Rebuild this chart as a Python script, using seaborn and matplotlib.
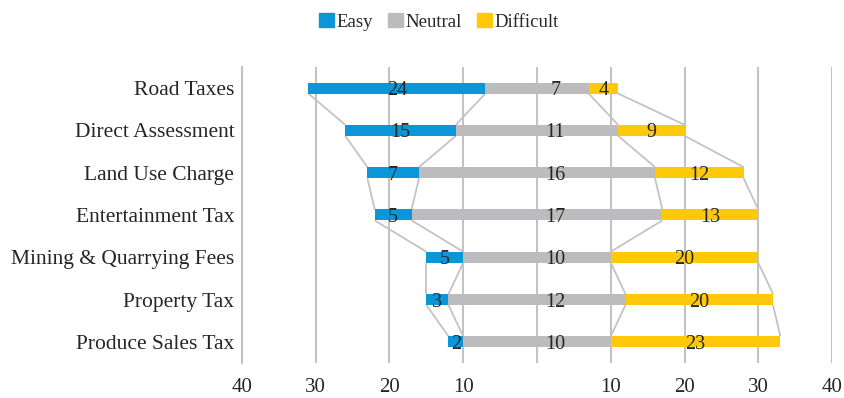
import matplotlib
matplotlib.use("Agg")
import matplotlib.pyplot as plt
import seaborn as sns
import pandas as pd
import numpy as np
from matplotlib.ticker import FixedLocator, FuncFormatter
from matplotlib.patches import Patch

categories = ["Road Taxes", "Direct Assessment", "Land Use Charge", "Entertainment Tax",
              "Mining & Quarrying Fees", "Property Tax", "Produce Sales Tax"]
easy = [24, 15, 7, 5, 5, 3, 2]
neutral = [7, 11, 16, 17, 10, 12, 10]
difficult = [4, 9, 12, 13, 20, 20, 23]
tick_values = [-40, -30, -20, -10, 0, 10, 20, 30, 40]

C_EASY = "#0A96D8"
C_NEU = "#BCBCBE"
C_DIF = "#FFC90A"
C_GRID = "#C3C3C3"
C_TEXT = "#262626"

sns.set_theme(style="white")
plt.rcParams["font.family"] = ["Liberation Serif", "DejaVu Serif"]

df = pd.DataFrame({"cat": categories, "easy": easy, "neutral": neutral, "difficult": difficult})
df["left_total"] = -(df["neutral"] + df["easy"])
df["neu_left"] = -df["neutral"]
df["right_total"] = df["neutral"] + df["difficult"]
df["neu_right"] = df["neutral"]

fig = plt.figure(figsize=(8.44, 3.98), dpi=100)
ax = fig.add_axes([0.2867, 0.088, 0.6991, 0.744])

W = 0.26
for col, color in [("left_total", C_EASY), ("right_total", C_DIF),
                   ("neu_left", C_NEU), ("neu_right", C_NEU)]:
    sns.barplot(data=df, y="cat", x=col, orient="h", color=color, width=W,
                saturation=1, ax=ax, order=categories, linewidth=0, zorder=3)

# series lines between adjacent bars
n = len(categories)
bounds = np.column_stack([df["left_total"], df["neu_left"], df["neu_right"], df["right_total"]])
for i in range(n - 1):
    for j in range(bounds.shape[1]):
        ax.plot([bounds[i, j], bounds[i + 1, j]], [i + W / 2, i + 1 - W / 2],
                color=C_GRID, lw=1.3, zorder=2, solid_capstyle="butt")

# data labels
FS_LAB = 14.5
for i in range(n):
    e, nu, d = easy[i], neutral[i], difficult[i]
    ax.text(-(nu + e / 2), i + 0.06, str(e), ha="center", va="center", fontsize=FS_LAB, color=C_TEXT, zorder=5)
    ax.text(2.5, i + 0.06, str(nu), ha="center", va="center", fontsize=FS_LAB, color=C_TEXT, zorder=5)
    ax.text(nu + d / 2, i + 0.06, str(d), ha="center", va="center", fontsize=FS_LAB, color=C_TEXT, zorder=5)

ax.set_xlim(-40, 40)
ax.set_ylim(n - 0.5, -0.5)
ax.xaxis.set_major_locator(FixedLocator(tick_values))
ax.xaxis.set_major_formatter(FuncFormatter(lambda v, p: "" if v == 0 else f"{abs(int(v))}"))
ax.grid(axis="x", color=C_GRID, lw=1.5, zorder=0)
ax.grid(axis="y", visible=False)
ax.set_axisbelow(True)
for s in ["top", "right", "bottom"]:
    ax.spines[s].set_visible(False)
ax.spines["left"].set_color(C_GRID)
ax.spines["left"].set_linewidth(1.5)
ax.set_xlabel("")
ax.set_ylabel("")
ax.tick_params(axis="x", length=0, labelsize=15, colors=C_TEXT, pad=11)
ax.tick_params(axis="y", length=0, labelsize=15.5, colors=C_TEXT, pad=5.5)

handles = [Patch(color=C_EASY, label="Easy"), Patch(color=C_NEU, label="Neutral"),
           Patch(color=C_DIF, label="Difficult")]
fig.legend(handles=handles, loc="center", bbox_to_anchor=(0.52, 0.945), ncol=3, frameon=False,
           fontsize=13.5, handlelength=0.8, handleheight=0.8, handletextpad=0.15, columnspacing=0.8,
           labelcolor=C_TEXT)

fig.savefig("out.png", dpi=100)
